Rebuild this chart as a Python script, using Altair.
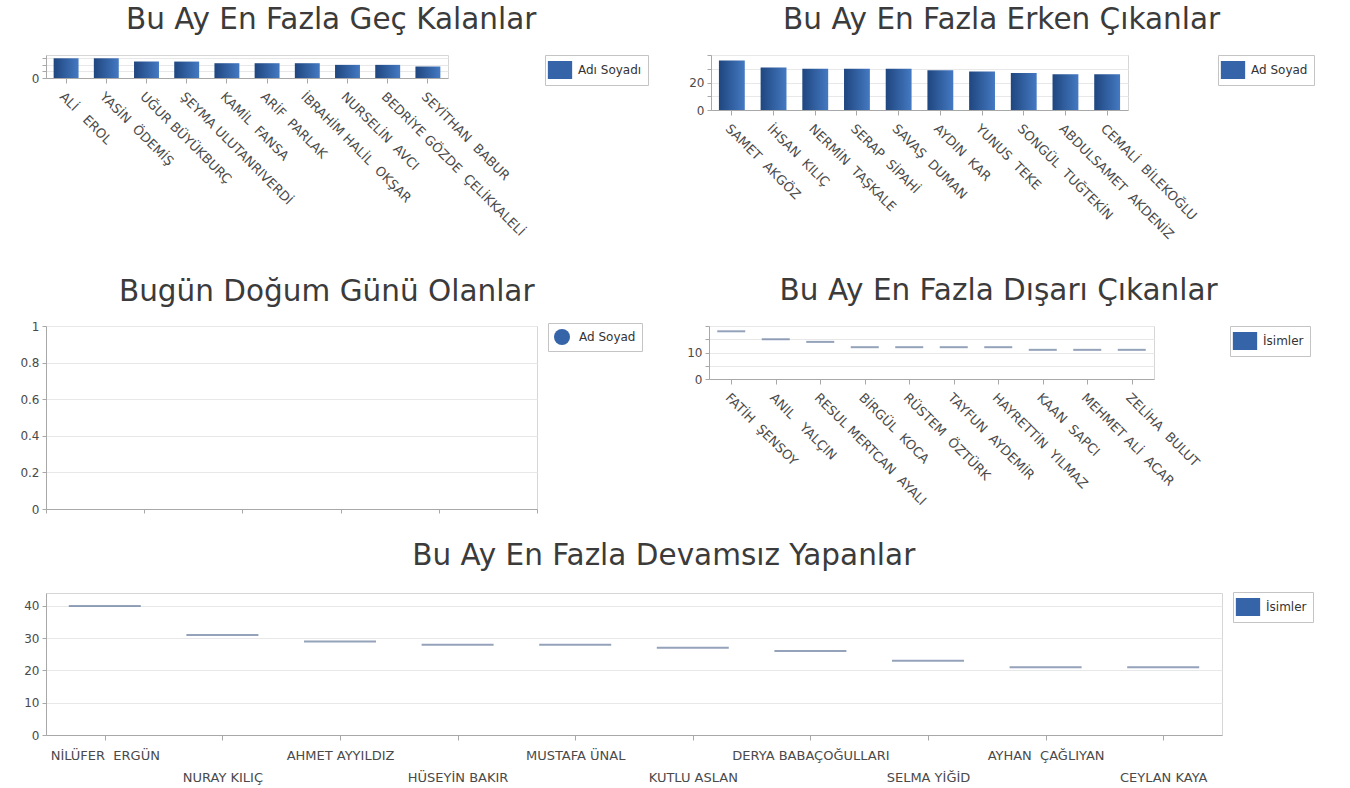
import json
import altair as alt
import pandas as pd

FONT = "DejaVu Sans"

# ---------------- data ----------------
late_names = ["ALİ   EROL", "YASİN  ÖDEMİŞ", "UĞUR BÜYÜKBURÇ", "ŞEYMA ULUTANRIVERDİ", "KAMİL  FANSA",
              "ARİF  PARLAK", "İBRAHİM HALİL  OKŞAR", "NURSELİN  AVCI", "BEDRİYE GÖZDE  ÇELİKKALELİ",
              "SEYİTHAN  BABUR"]
late_values = [12, 12, 10, 10, 9, 9, 9, 8, 8, 7]

early_names = ["SAMET  AKGÖZ", "İHSAN  KILIÇ", "NERMİN  TAŞKALE", "SERAP  SİPAHİ", "SAVAŞ  DUMAN",
               "AYDIN  KAR", "YUNUS  TEKE", "SONGÜL  TUĞTEKİN", "ABDULSAMET  AKDENİZ", "CEMALİ  BİLEKOĞLU"]
early_values = [36, 31, 30, 30, 30, 29, 28, 27, 26, 26]

birthday_order = []
birthday_values = []

out_names = ["FATİH  ŞENSOY", "ANIL   YALÇIN", "RESUL MERTCAN  AYALI", "BİRGÜL  KOCA", "RÜSTEM  ÖZTÜRK",
             "TAYFUN  AYDEMİR", "HAYRETTİN  YILMAZ", "KAAN  SAPCI", "MEHMET ALİ  ACAR", "ZELİHA  BULUT"]
out_values = [18, 15, 14, 12, 12, 12, 12, 11, 11, 11]

absent_names = ["NİLÜFER  ERGÜN", "NURAY KILIÇ", "AHMET AYYILDIZ", "HÜSEYİN BAKIR", "MUSTAFA ÜNAL",
                "KUTLU ASLAN", "DERYA BABAÇOĞULLARI", "SELMA YİĞİD", "AYHAN  ÇAĞLIYAN", "CEYLAN KAYA"]
absent_values = [40, 31, 29, 28, 28, 27, 26, 23, 21, 21]

titles = ["Bu Ay En Fazla Geç Kalanlar", "Bu Ay En Fazla Erken Çıkanlar", "Bugün Doğum Günü Olanlar",
          "Bu Ay En Fazla Dışarı Çıkanlar", "Bu Ay En Fazla Devamsız Yapanlar"]
legend_labels = ["Adı Soyadı", "Ad Soyad", "Ad Soyad", "İsimler", "İsimler"]

# ---------------- styles ----------------
LEGEND_BLUE = "#3564a8"
TICK_COLOR = "#667b9c"
TITLE_COLOR = "#3b3b3b"
RECT_PATH = "M-1.35,-1L1.35,-1L1.35,1L-1.35,1Z"
BAR_FILL = alt.LinearGradient(
    gradient="linear",
    stops=[alt.GradientStop(color="#1f467f", offset=0), alt.GradientStop(color="#4479c2", offset=1)],
    x1=0, x2=1, y1=0, y2=0,
)
TITLE_SIZE = 29.5
XLABEL_SIZE = 13


def nb(names):
    return [n.replace(" ", "\u00a0") for n in names]


def title_params(text, offset):
    return alt.TitleParams(text=text, anchor="middle", frame="bounds", offset=offset,
                           fontSize=TITLE_SIZE, font=FONT, fontWeight="normal", color=TITLE_COLOR)


def y_axis(tick_vals, label_vals, extent, fmt=None):
    kw = dict(title=None, values=tick_vals, grid=True, tickSize=4, labelPadding=3,
              minExtent=extent, maxExtent=extent, labelFontSize=12)
    if label_vals is not None:
        kw["labelExpr"] = "indexof(" + json.dumps(label_vals) + ", datum.value) >= 0 ? datum.label : ''"
    if fmt:
        kw["format"] = fmt
    return alt.Axis(**kw)


def rotated_x_axis():
    return alt.Axis(title=None, labelAngle=45, labelAlign="left", labelBaseline="top", labelPadding=7,
                    tickSize=5, labelFontSize=XLABEL_SIZE, labelLimit=400, labelOverlap=False, grid=False)


def legend(label_x, label_y, symbol, size):
    return alt.Legend(title=None, orient="none", legendX=label_x, legendY=label_y, symbolType=symbol,
                      symbolSize=size, symbolStrokeWidth=0, labelOffset=9, symbolOpacity=1)


def legend_layer(base, label, symbol, size, lx, ly):
    return base.transform_calculate(seri="'" + label + "'").transform_filter("false").mark_point(
        filled=True, opacity=1
    ).encode(
        color=alt.Color("seri:N", scale=alt.Scale(domain=[label], range=[LEGEND_BLUE]),
                        legend=legend(lx, ly, symbol, size))
    )


def bar_panel(names, values, title, label, width, height, ymax, tick_vals, label_vals, extent, lx, ly,
              toff):
    names = nb(names)
    df = pd.DataFrame({"isim": names, "deger": values})
    base = alt.Chart(df)
    bars = base.mark_bar(color=BAR_FILL).encode(
        x=alt.X("isim:N", sort=names, scale=alt.Scale(paddingInner=0.38, paddingOuter=0.19),
                axis=rotated_x_axis()),
        y=alt.Y("deger:Q", scale=alt.Scale(domain=[0, ymax], nice=False),
                axis=y_axis(tick_vals, label_vals, extent)),
    )
    leg = legend_layer(base, label, RECT_PATH, 324, lx, ly)
    return alt.layer(bars, leg).properties(width=width, height=height, title=title_params(title, toff))


def tick_panel(names, values, title, label, width, height, ymax, tick_vals, label_vals, extent, lx, ly,
               tick_len, stagger, toff):
    names = nb(names)
    df = pd.DataFrame({"isim": names, "deger": values})
    base = alt.Chart(df)
    if stagger:
        xa = alt.Axis(title=None, labelAngle=0, labelAlign="center", labelBaseline="top", labelPadding=9,
                      tickSize=5, labelFontSize=XLABEL_SIZE, labelLimit=400, labelOverlap=False, grid=False,
                      labelLineHeight=22,
                      labelExpr="indexof(" + json.dumps(names, ensure_ascii=False)
                                + ", datum.value) % 2 == 1 ? ['', datum.label] : datum.label")
    else:
        xa = rotated_x_axis()
    ticks = base.mark_tick(color=TICK_COLOR, thickness=2, size=tick_len).encode(
        x=alt.X("isim:N", sort=names, scale=alt.Scale(type="point", padding=0.5), axis=xa),
        y=alt.Y("deger:Q", scale=alt.Scale(domain=[0, ymax], nice=False),
                axis=y_axis(tick_vals, label_vals, extent)),
    )
    leg = legend_layer(base, label, RECT_PATH, 324, lx, ly)
    return alt.layer(ticks, leg).properties(width=width, height=height, title=title_params(title, toff))


# ---------------- panels ----------------
p1 = bar_panel(late_names, late_values, titles[0], legend_labels[0], 402, 23, 14,
               [0, 4, 8, 12], [0], 32, 499, 0, 19)
p2 = bar_panel(early_names, early_values, titles[1], legend_labels[1], 417, 55, 40,
               [0, 10, 20, 30, 40], [0, 20], 20, 507, 0, 19)

df3 = pd.DataFrame({"sira": birthday_order, "deger": birthday_values})
p3 = alt.Chart(df3).transform_calculate(seri="'" + legend_labels[2] + "'").mark_point(
    filled=True, opacity=1
).encode(
    x=alt.X("sira:Q", scale=alt.Scale(domain=[0, 5], nice=False),
            axis=alt.Axis(title=None, labels=False, values=[0, 1, 2, 3, 4, 5], grid=False, tickSize=4)),
    y=alt.Y("deger:Q", scale=alt.Scale(domain=[0, 1], nice=False),
            axis=y_axis([0, 0.2, 0.4, 0.6, 0.8, 1], None, 35, fmt="~g")),
    color=alt.Color("seri:N", scale=alt.Scale(domain=[legend_labels[2]], range=[LEGEND_BLUE]),
                    legend=legend(502, -3, "circle", 256)),
).properties(width=491, height=183, title=title_params(titles[2], 13))

p4 = tick_panel(out_names, out_values, titles[3], legend_labels[3], 445, 53, 20,
                [0, 5, 10, 15, 20], [0, 10], 20, 521, 0, 28, False, 19)
p5 = tick_panel(absent_names, absent_values, titles[4], legend_labels[4], 1176, 142, 44,
                [0, 10, 20, 30, 40], [0, 10, 20, 30, 40], 32, 1187, -1, 72, True, 20)

row1 = alt.hconcat(p1, p2, spacing=263, bounds="flush").resolve_scale(color="independent").resolve_legend(color="independent")
row2 = alt.hconcat(p3, p4, spacing=172, bounds="flush").resolve_scale(color="independent").resolve_legend(color="independent")
top = alt.vconcat(row1, row2, spacing=33).resolve_scale(color="independent").resolve_legend(color="independent")
chart = alt.vconcat(top, p5, spacing=24).resolve_scale(color="independent").resolve_legend(
    color="independent"
).properties(
    padding={"left": 10, "top": 4, "right": 0, "bottom": 0}
).configure_view(stroke="#d6d6d6", strokeWidth=1).configure_axis(
    domainColor="#a8a8a8", tickColor="#a8a8a8", gridColor="#e8e8e8", labelColor="#4a4a4a",
    labelFont=FONT,
).configure_legend(
    strokeColor="#c4c4c4", fillColor="white", padding=6, labelFont=FONT, labelFontSize=12,
    labelColor="#333333", cornerRadius=0,
)

chart.save("out.html", embed_options={"renderer": "svg", "actions": False})
